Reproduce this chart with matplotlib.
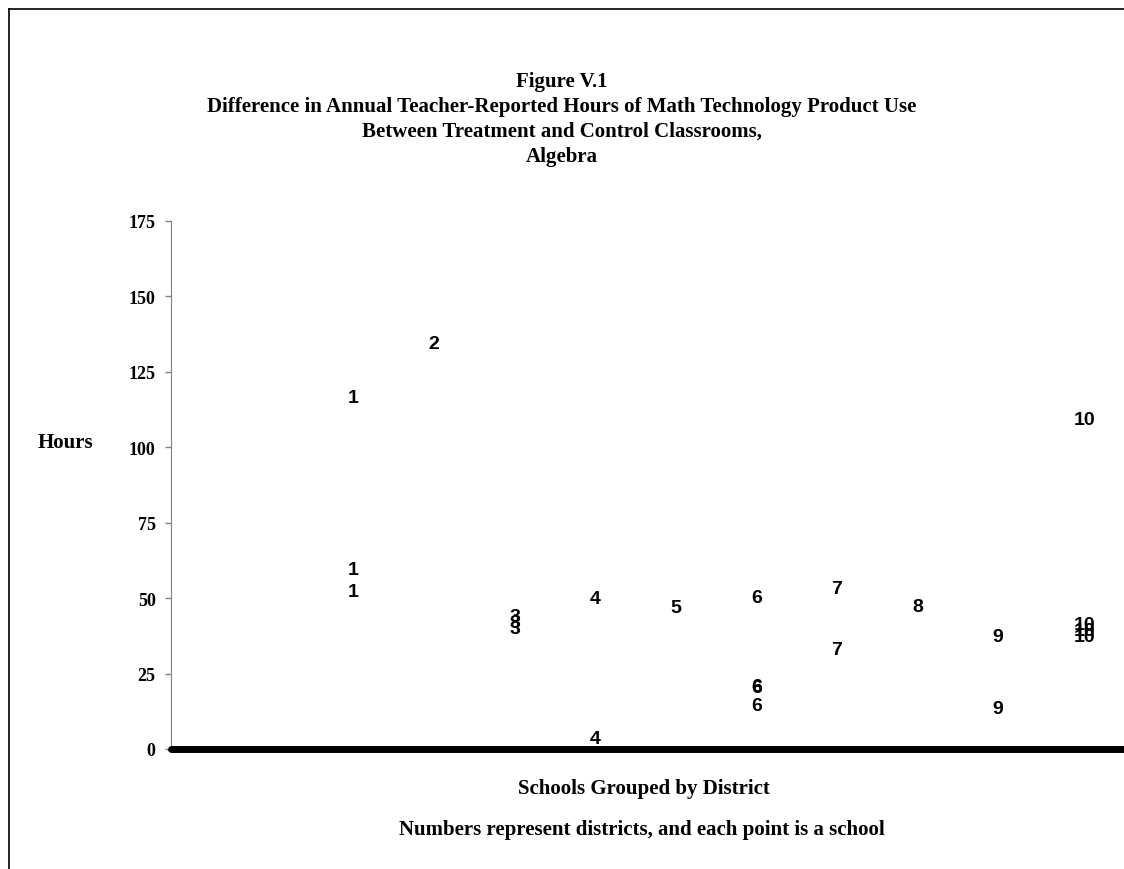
import matplotlib
matplotlib.use("Agg")
import matplotlib.pyplot as plt
from matplotlib.lines import Line2D

# === DATA ===
# each entry is one school: district number and hours difference
districts = [1, 1, 1, 2, 3, 3, 3, 4, 4, 5, 6, 6, 6, 6, 7, 7, 8, 9, 9, 10, 10, 10, 10]
hours = [117, 60, 53, 135, 44.5, 42.5, 40.5, 50.5, 4, 47.5, 51, 21.5, 21, 15,
         54, 33.5, 48, 38, 14, 110, 42, 40, 38]

y_ticks = [0, 25, 50, 75, 100, 125, 150, 175]

title_lines = [
    "Figure V.1",
    "Difference in Annual Teacher-Reported Hours of Math Technology Product Use",
    "Between Treatment and Control Classrooms,",
    "Algebra",
]
x_label = "Schools Grouped by District"
note = "Numbers represent districts, and each point is a school"
y_label = "Hours"

# === FIGURE ===
W, H = 1124, 870
fig = plt.figure(figsize=(W / 100, H / 100), dpi=100)
serif = "Liberation Serif"
sans = "Liberation Sans"

ax = fig.add_axes([171 / W, 1 - 750 / H, 1 - 171 / W, (750 - 222) / H])
ax.set_xlim(-1.196, 10.628)
ax.set_ylim(0, 175)

# each school is drawn as its district number
for d, h in zip(districts, hours):
    ax.text(d, h, str(d), ha="left", va="center_baseline", fontsize=14,
            fontweight="bold", family=sans, color="black")

ax.axhline(0, color="black", lw=5, solid_capstyle="round", clip_on=False, zorder=3)

for s in ["top", "right"]:
    ax.spines[s].set_visible(False)
ax.spines["left"].set_color("#808080")
ax.spines["bottom"].set_color("#808080")
ax.set_xticks([])
ax.set_yticks(y_ticks)
ax.tick_params(axis="y", direction="out", length=4, width=1, color="#808080", pad=7)
for lab in ax.get_yticklabels():
    lab.set_fontfamily(serif)
    lab.set_fontweight("bold")
    lab.set_fontsize(13)

# titles and labels
for i, line in enumerate(title_lines):
    fig.text(562 / W, 1 - (82 + 25 * i) / H, line, ha="center", va="center",
             family=serif, fontweight="bold", fontsize=15)
fig.text(65 / W, 1 - 443 / H, y_label, ha="center", va="center",
         family=serif, fontweight="bold", fontsize=15)
fig.text(644 / W, 1 - 789 / H, x_label, ha="center", va="center",
         family=serif, fontweight="bold", fontsize=15)
fig.text(642 / W, 1 - 830 / H, note, ha="center", va="center",
         family=serif, fontweight="bold", fontsize=15)

# frame around the chart area (only top and left edges show)
fig.add_artist(Line2D([9 / W, 1.0], [1 - 10 / H, 1 - 10 / H], color="black", lw=1.2))
fig.add_artist(Line2D([9 / W, 9 / W], [0, 1 - 10 / H], color="black", lw=1.2))

fig.savefig("out.png", dpi=100)
